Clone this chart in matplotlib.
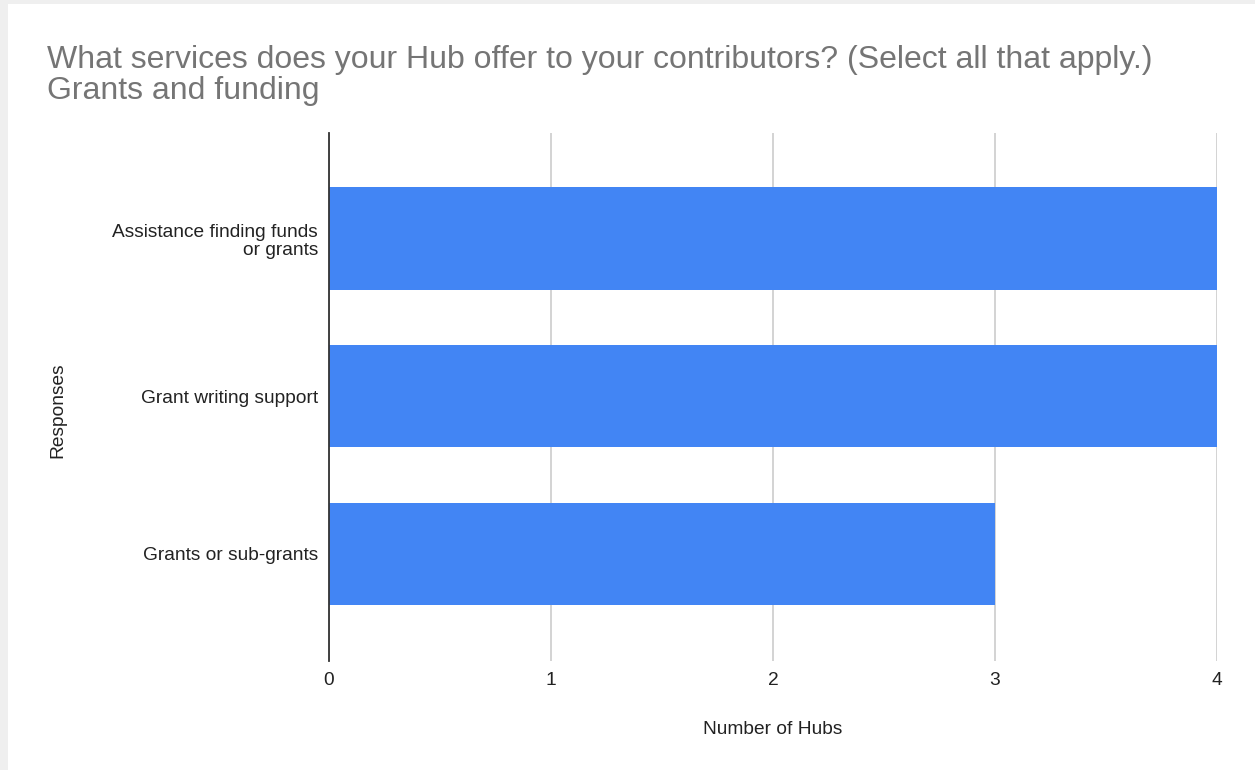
import matplotlib.pyplot as plt
from matplotlib.patches import Rectangle

plt.rcParams['font.family'] = ['Liberation Sans', 'DejaVu Sans']

# survey responses: count of hubs per service
responses = ["Assistance finding funds\nor grants", "Grant writing support", "Grants or sub-grants"]
hub_counts = [4, 4, 3]
x_ticks = [0, 1, 2, 3, 4]

W, H = 1255, 770
fig = plt.figure(figsize=(W / 100, H / 100), dpi=100)
fig.patch.set_facecolor('white')
# grey page border on the left and top edges
for x0, y0, w, h in [(0, 0, 8 / W, 1), (0, 1 - 4 / H, 1, 4 / H)]:
    fig.patches.append(Rectangle((x0, y0), w, h, transform=fig.transFigure,
                                 facecolor='#efefef', edgecolor='none'))

ax = fig.add_axes([329 / W, 1 - 661 / H, (1217 - 329) / W, (661 - 133) / H])
ax.set_facecolor('white')

ypos = list(range(len(responses)))
ax.barh(ypos, hub_counts, height=0.65, color='#4285f4', zorder=3)

ax.set_ylim(len(responses) - 1 + 0.68, -0.67)
ax.set_xlim(0, 4)
ax.set_xticks(x_ticks)
ax.set_yticks(ypos)
ax.set_yticklabels(responses, fontsize=13.8, color='#222222', ha='right',
                   multialignment='right', linespacing=1.08)
ax.tick_params(axis='x', labelsize=13.8, colors='#222222', length=0, pad=8)
ax.tick_params(axis='y', length=0, pad=8)

ax.grid(axis='x', color='#cccccc', linewidth=1.2, zorder=0)
for side in ['top', 'right', 'bottom']:
    ax.spines[side].set_visible(False)
ax.spines['left'].set_color('#333333')
ax.spines['left'].set_linewidth(1.3)
ax.spines['left'].set_zorder(4)

ax.set_xlabel("Number of Hubs", fontsize=13.8, color='#222222')
ax.set_ylabel("Responses", fontsize=13.8, color='#222222')
ax.xaxis.set_label_coords(0.5, -0.113)
ax.yaxis.set_label_coords(-0.296, 0.475)

fig.text(47 / W, 1 - 99 / H,
         "What services does your Hub offer to your contributors? (Select all that apply.)\nGrants and funding",
         fontsize=23, color='#757575', ha='left', va='baseline', linespacing=1.03)

fig.savefig('out.png', dpi=100, facecolor=fig.get_facecolor())
